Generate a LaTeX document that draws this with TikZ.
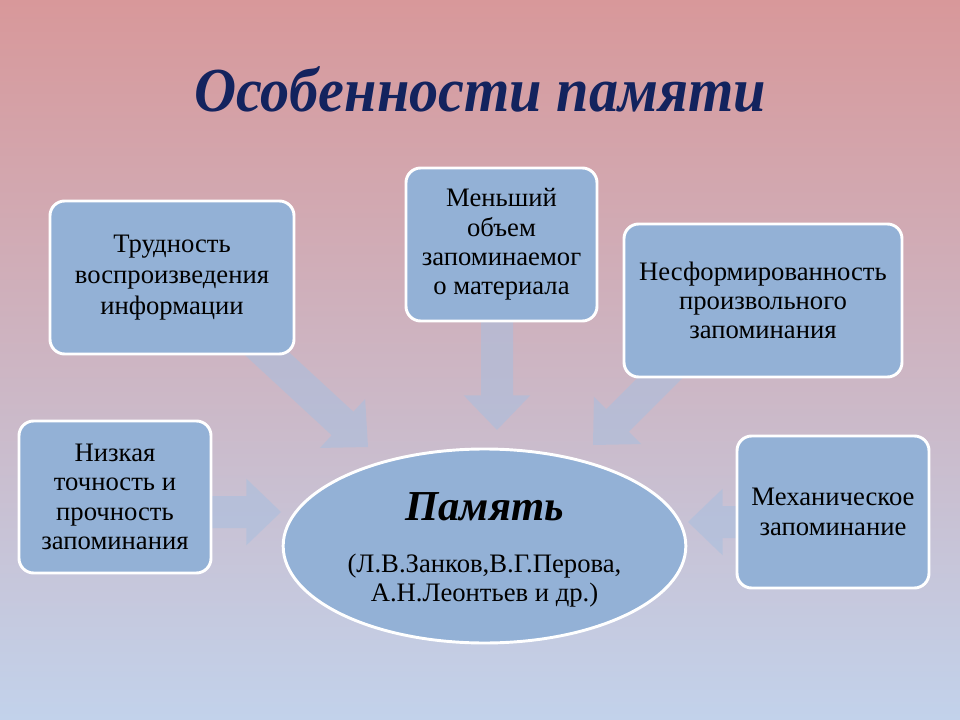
\documentclass[tikz,border=0pt]{standalone}
\usepackage{fontspec}
\setmainfont{Liberation Serif}
\usetikzlibrary{calc,shapes.geometric}
\definecolor{bgtop}{HTML}{D8989A}
\definecolor{bgmid}{HTML}{D0B0BE}
\definecolor{bgbot}{HTML}{C2D2EB}
\definecolor{boxfill}{HTML}{93B1D6}
\definecolor{arrfill}{HTML}{A8BFDF}
\definecolor{titlecol}{HTML}{13235E}
\tikzset{
  featbox/.style={draw=white, line width=2.2pt, rounded corners=11pt, fill=boxfill,
    align=center, inner sep=2pt, minimum height=114.75pt,
    font=\fontsize{20}{22}\selectfont, text=black},
  memell/.style={ellipse, draw=white, line width=2.2pt, fill=boxfill,
    inner sep=0pt, minimum width=302pt, minimum height=145.5pt},
  memtext/.style={anchor=base, text=black, inner sep=0pt, font=\fontsize{20}{22}\selectfont},
  arrowfill/.style={fill=arrfill, fill opacity=0.55},
}
\newcommand\blockarr[2]{%
  \coordinate (hb) at ($(#2)!26pt!(#1)$);
  \fill[arrowfill] ($(#1)!12pt!90:(#2)$) -- ($(hb)!12pt!90:(#2)$) -- ($(hb)!25pt!90:(#2)$)
    -- (#2) -- ($(hb)!25pt!-90:(#2)$) -- ($(hb)!12pt!-90:(#2)$) -- ($(#1)!12pt!-90:(#2)$) -- cycle;
}
\begin{document}
\begin{tikzpicture}[x=0.75pt,y=-0.75pt]
\useasboundingbox (0,0) rectangle (960,720);
\fill[top color=bgtop, middle color=bgmid, bottom color=bgbot] (0,0) rectangle (960,720);

% arrow coordinates
\coordinate (sA) at (250,338);
\coordinate (tA) at (368,447);
\coordinate (sB) at (497,300);
\coordinate (tB) at (497,430);
\coordinate (sC) at (700,338);
\coordinate (tC) at (593,445);
\coordinate (sD) at (195,512);
\coordinate (tD) at (281,512);
\coordinate (sE) at (770,522);
\coordinate (tE) at (688,522);
\blockarr{sA}{tA}
\blockarr{sB}{tB}
\blockarr{sC}{tC}
\blockarr{sD}{tD}
\blockarr{sE}{tE}

\node[anchor=base, text=titlecol, inner sep=0pt] (title) at (480,112)
  {\scalebox{0.93}[1]{\fontsize{47}{52}\selectfont\bfseries\itshape Особенности памяти}};

\node[featbox, minimum width=183pt, font=\fontsize{20}{23.5}\selectfont] (b1) at (172,277.5) {Трудность\\воспроизведения\\информации};
\node[featbox, minimum width=143.25pt] (b2) at (501.5,244.5) {Меньший\\объем\\запоминаемог\\о материала};
\node[featbox, minimum width=208.5pt] (b3) at (763,300.5) {Несформированность\\произвольного\\запоминания};
\node[featbox, minimum width=144pt, minimum height=114pt] (b4) at (115,497) {Низкая\\точность и\\прочность\\запоминания};
\node[featbox, minimum width=144pt, minimum height=114pt] (b5) at (833,512) {Механическое\\запоминание};

\node[memell] (mem) at (484.5,546) {};
\node[memtext, font=\fontsize{32}{36}\selectfont\bfseries\itshape] (memtitle) at (484.5,520) {Память};
\node[memtext] (memauth1) at (484.5,572) {(Л.В.Занков,В.Г.Перова,};
\node[memtext] (memauth2) at (484.5,601) {А.Н.Леонтьев и др.)};
\end{tikzpicture}
\end{document}
